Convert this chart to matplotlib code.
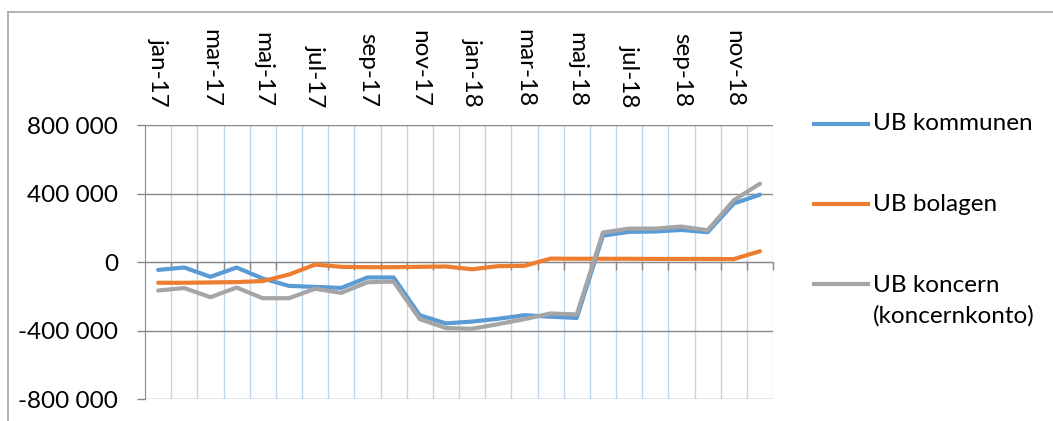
import matplotlib
matplotlib.use("Agg")
import matplotlib.pyplot as plt
from matplotlib.lines import Line2D
from matplotlib.ticker import FuncFormatter, FixedLocator

months = ['jan-17', 'feb-17', 'mar-17', 'apr-17', 'maj-17', 'jun-17', 'jul-17', 'aug-17',
          'sep-17', 'okt-17', 'nov-17', 'dec-17', 'jan-18', 'feb-18', 'mar-18', 'apr-18',
          'maj-18', 'jun-18', 'jul-18', 'aug-18', 'sep-18', 'okt-18', 'nov-18', 'dec-18']

ub_kommunen = [-45000, -31000, -85000, -31000, -95000, -138000, -144000, -150000,
               -89000, -89000, -309000, -357000, -346000, -330000, -309000, -318000,
               -325000, 155000, 177000, 179000, 188000, 175000, 342000, 394000]
ub_bolagen = [-120000, -120000, -118000, -116000, -110000, -72000, -14000, -27000,
              -29000, -29000, -27000, -25000, -41000, -23000, -21000, 21000,
              20000, 20000, 20000, 19000, 19000, 19000, 18000, 64000]
ub_koncern = [-165000, -151000, -204000, -148000, -210000, -210000, -155000, -179000,
              -117000, -113000, -332000, -384000, -388000, -361000, -332000, -299000,
              -305000, 173000, 196000, 196000, 208000, 186000, 361000, 458000]

series_labels = ['UB kommunen', 'UB bolagen', 'UB koncern\n(koncernkonto)']
colors = ['#5B9BD5', '#ED7D31', '#A5A5A5']
y_ticks = [-800000, -400000, 0, 400000, 800000]

FONT = 'Lato'
FS = 17.5
W, H = 1053, 421
fig = plt.figure(figsize=(W / 100, H / 100), dpi=100)
plt.rcParams['font.family'] = [FONT, 'DejaVu Sans']

ax = fig.add_axes([145 / W, 1 - 399.4 / H, (773 - 145) / W, (399.4 - 125) / H])

x = list(range(len(months)))
for vals, c in zip([ub_kommunen, ub_bolagen, ub_koncern], colors):
    ax.plot(x, vals, color=c, lw=3.0, solid_capstyle='round', solid_joinstyle='round', zorder=3)

ax.set_xlim(-0.5, len(months) - 0.5)
ax.set_ylim(-800000, 800000)

# y axis
ax.yaxis.set_major_locator(FixedLocator(y_ticks))
ax.yaxis.set_major_formatter(FuncFormatter(lambda v, p: f"{v:,.0f}".replace(',', ' ')))
ax.tick_params(axis='y', length=5.8, width=1, color='#898989', pad=13.5, labelsize=FS)
ax.grid(axis='y', color='#898989', lw=1, zorder=1)

# x axis: boundaries
bounds = [i - 0.5 for i in range(len(months) + 1)]
ax.xaxis.set_major_locator(FixedLocator(bounds[1:]))
ax.spines['bottom'].set_position(('data', 0))
ax.spines['bottom'].set_color('#898989')
ax.tick_params(axis='x', direction='out', length=5.8, width=1, color='#898989',
               labelbottom=False)
ax.grid(axis='x', color='#BDD7EE', lw=1, zorder=0)
for s in ['top', 'right']:
    ax.spines[s].set_visible(False)
ax.spines['left'].set_color('#898989')
ax.set_axisbelow(True)

# top labels
sec = ax.secondary_xaxis('top')
sec.set_xticks(x[::2])
sec.set_xticklabels(months[::2], rotation=270, fontsize=FS)
sec.tick_params(length=0, pad=13)
sec.spines['top'].set_visible(False)

# legend
leg_y = [124, 204, 284]
for lab, c, yy in zip(series_labels, colors, leg_y):
    fig.add_artist(Line2D([814 / W, 868 / W], [1 - yy / H, 1 - yy / H],
                          transform=fig.transFigure, color=c, lw=3.0))
    if '\n' in lab:
        fig.text(873 / W, 1 - (yy - 9) / H, lab, fontsize=FS, va='top', ha='left',
                 linespacing=1.5)
    else:
        fig.text(873 / W, 1 - yy / H, lab, fontsize=FS, va='center', ha='left')

# chart border
fig.add_artist(Line2D([8 / W, 1], [1 - 12 / H, 1 - 12 / H], transform=fig.transFigure,
                      color='#A6A6A6', lw=1.2))
fig.add_artist(Line2D([8 / W, 8 / W], [1 - 12 / H, 0], transform=fig.transFigure,
                      color='#A6A6A6', lw=1.2))

fig.savefig('out.png', dpi=100)
